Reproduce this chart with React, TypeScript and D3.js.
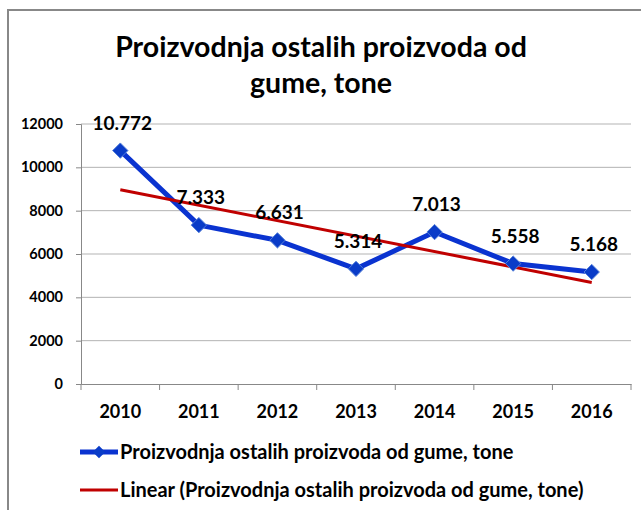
import React, { useEffect, useRef } from "react";
import * as d3 from "d3";

const years = ["2010", "2011", "2012", "2013", "2014", "2015", "2016"];
const production = [10772, 7333, 6631, 5314, 7013, 5558, 5168];
const yTicks = [0, 2000, 4000, 6000, 8000, 10000, 12000];
const titleLines = ["Proizvodnja ostalih proizvoda od", "gume, tone"];
const seriesName = "Proizvodnja ostalih proizvoda od gume, tone";
const trendName = "Linear (Proizvodnja ostalih proizvoda od gume, tone)";

const W = 641;
const H = 510;
const FONT = "Lato, 'Open Sans', sans-serif";

export default function App() {
  const svgRef = useRef<SVGSVGElement>(null);

  useEffect(() => {
    const svg = d3.select(svgRef.current);
    svg.selectAll("*").remove();

    const left = 81, right = 631, top = 124, bottom = 384;

    const x = d3.scaleBand().domain(years).range([left, right]);
    const y = d3.scaleLinear().domain([0, 12000]).range([bottom, top]);
    const cx = (d: string) => (x(d) as number) + x.bandwidth() / 2;

    // chart border
    svg.append("rect")
      .attr("x", 8).attr("y", 10).attr("width", 640).attr("height", 520)
      .attr("fill", "white").attr("stroke", "#888").attr("stroke-width", 2);

    // title
    svg.append("g").selectAll("text").data(titleLines).join("text")
      .attr("x", 321).attr("y", (d, i) => 57 + i * 36)
      .attr("text-anchor", "middle")
      .attr("font-family", FONT).attr("font-weight", "bold").attr("font-size", 28.5)
      .attr("fill", "#000")
      .text(d => d);

    // gridlines
    svg.append("g").selectAll("line").data(yTicks.filter(t => t > 0)).join("line")
      .attr("x1", left).attr("x2", right)
      .attr("y1", d => y(d)).attr("y2", d => y(d))
      .attr("stroke", "#b3b3b3").attr("stroke-width", 1);

    // y axis
    const yAxis = svg.append("g").attr("transform", `translate(${left},0)`)
      .call(d3.axisLeft(y).tickValues(yTicks).tickSize(5).tickPadding(13).tickFormat(d3.format("d")));
    yAxis.select(".domain").attr("stroke", "#888");
    yAxis.selectAll(".tick line").attr("stroke", "#888");
    yAxis.selectAll("text")
      .attr("font-family", FONT).attr("font-weight", "bold").attr("font-size", 14.5).attr("fill", "#000");

    // x axis
    const xAxis = svg.append("g").attr("transform", `translate(0,${bottom})`)
      .call(d3.axisBottom(x).tickSize(0).tickPadding(21));
    xAxis.select(".domain").attr("stroke", "#888");
    xAxis.selectAll("text")
      .attr("font-family", FONT).attr("font-weight", "bold").attr("font-size", 18).attr("fill", "#000");
    svg.append("g").selectAll("line").data([...years.map(d => x(d) as number), right]).join("line")
      .attr("x1", d => d).attr("x2", d => d)
      .attr("y1", bottom).attr("y2", bottom + 6)
      .attr("stroke", "#888");

    // linear trend (least squares)
    const idx = years.map((_, i) => i);
    const mx = d3.mean(idx) as number;
    const my = d3.mean(production) as number;
    const slope = d3.sum(idx, i => (i - mx) * (production[i] - my)) / d3.sum(idx, i => (i - mx) ** 2);
    const trend = (i: number) => my + slope * (i - mx);

    const line = d3.line<number>().x((_, i) => cx(years[i])).y(d => y(d));

    svg.append("path")
      .datum(production)
      .attr("d", line)
      .attr("fill", "none").attr("stroke", "#0a33d0").attr("stroke-width", 5)
      .attr("stroke-linejoin", "round");

    svg.append("line")
      .attr("x1", cx(years[0])).attr("y1", y(trend(0)))
      .attr("x2", cx(years[6])).attr("y2", y(trend(6)))
      .attr("stroke", "#c00000").attr("stroke-width", 3);

    const diamond = d3.symbol().type(d3.symbolDiamond2).size(150);
    svg.append("g").selectAll("path").data(production).join("path")
      .attr("d", diamond)
      .attr("transform", (d, i) => `translate(${cx(years[i])},${y(d)})`)
      .attr("fill", "#0a3cc8").attr("stroke", "#5580d8").attr("stroke-width", 1);

    // data labels
    svg.append("g").selectAll("text").data(production).join("text")
      .attr("x", (d, i) => cx(years[i]) + 2)
      .attr("y", d => y(d) - 21)
      .attr("text-anchor", "middle")
      .attr("font-family", FONT).attr("font-weight", "bold").attr("font-size", 19)
      .attr("fill", "#000")
      .text(d => d3.format(",")(d).replace(",", "."));

    // legend
    const lg = svg.append("g").attr("transform", "translate(80,452)");
    lg.append("line").attr("x1", 0).attr("x2", 38).attr("y1", 0).attr("y2", 0)
      .attr("stroke", "#0a33d0").attr("stroke-width", 5);
    lg.append("path").attr("d", d3.symbol().type(d3.symbolDiamond2).size(100))
      .attr("transform", "translate(19,0)").attr("fill", "#0a3cc8");
    lg.append("text").attr("x", 40).attr("y", 7)
      .attr("font-family", FONT).attr("font-weight", "bold").attr("font-size", 20)
      .text(seriesName);
    lg.append("line").attr("x1", 0).attr("x2", 38).attr("y1", 38).attr("y2", 38)
      .attr("stroke", "#c00000").attr("stroke-width", 3);
    lg.append("text").attr("x", 40).attr("y", 45)
      .attr("font-family", FONT).attr("font-weight", "bold").attr("font-size", 20)
      .text(trendName);
  }, []);

  return (
    <svg ref={svgRef} width={W} height={H}
      style={{ position: "absolute", left: 0, top: 0, display: "block" }} />
  );
}
